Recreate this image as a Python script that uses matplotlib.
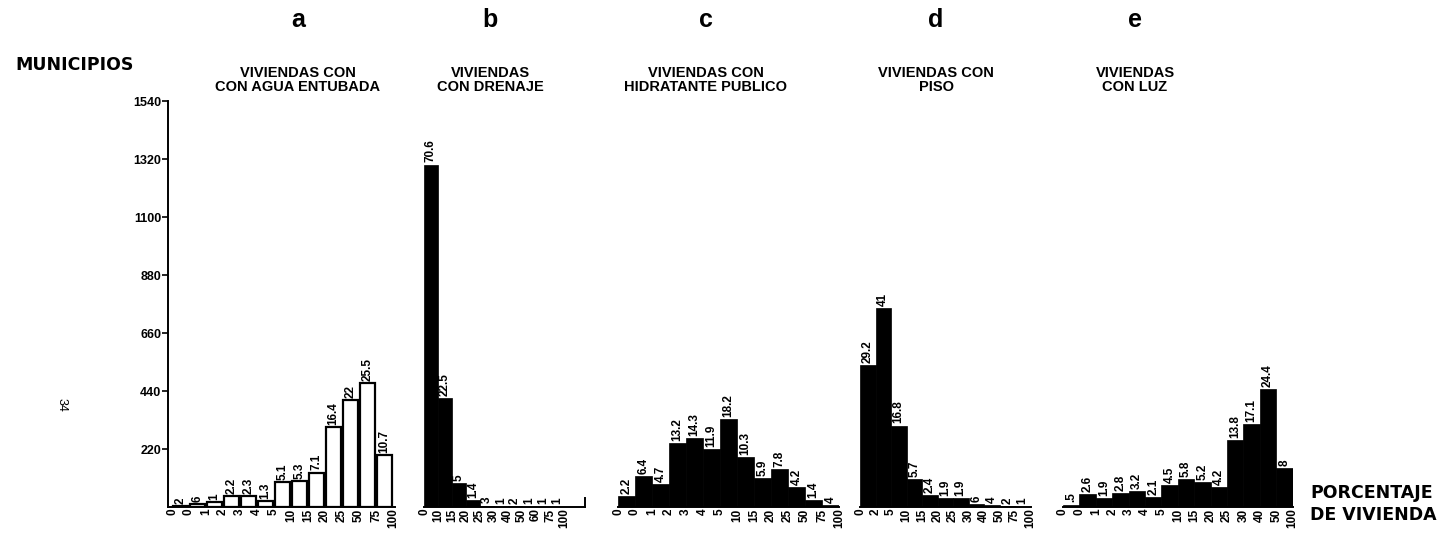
import numpy as np
import matplotlib
matplotlib.use("Agg")
import matplotlib.pyplot as plt

# ── data: % of municipios per class, and total municipios ─────────────────
TOTAL_MUNICIPIOS = 1840

pct_a = [0.2, 0.6, 1, 2.2, 2.3, 1.3, 5.1, 5.3, 7.1, 16.4, 22, 25.5, 10.7]
lab_a = ["2", "6", "1", "2.2", "2.3", "1.3", "5.1", "5.3", "7.1", "16.4", "22", "25.5", "10.7"]
edges_a = ["0", "0", "1", "2", "3", "4", "5", "10", "15", "20", "25", "50", "75", "100"]

pct_b = [70.6, 22.5, 5, 1.4, 0.3, 0.1, 0.2, 0.1, 0.1, 0.1]
lab_b = ["70.6", "22.5", "5", "1.4", "3", "1", "2", "1", "1", "1"]
edges_b = ["0", "10", "15", "20", "25", "30", "40", "50", "60", "75", "100"]

pct_c = [2.2, 6.4, 4.7, 13.2, 14.3, 11.9, 18.2, 10.3, 5.9, 7.8, 4.2, 1.4, 0.4]
lab_c = ["2.2", "6.4", "4.7", "13.2", "14.3", "11.9", "18.2", "10.3", "5.9", "7.8", "4.2", "1.4", "4"]
edges_c = ["0", "0", "1", "2", "3", "4", "5", "10", "15", "20", "25", "50", "75", "100"]

pct_d = [29.2, 41, 16.8, 5.7, 2.4, 1.9, 1.9, 0.6, 0.4, 0.2, 0.1]
lab_d = ["29.2", "41", "16.8", "5.7", "2.4", "1.9", "1.9", "6", "4", "2", "1"]
edges_d = ["0", "2", "5", "10", "15", "20", "25", "30", "40", "50", "75", "100"]

pct_e = [0.5, 2.6, 1.9, 2.8, 3.2, 2.1, 4.5, 5.8, 5.2, 4.2, 13.8, 17.1, 24.4, 8.0]
lab_e = [".5", "2.6", "1.9", "2.8", "3.2", "2.1", "4.5", "5.8", "5.2", "4.2", "13.8", "17.1", "24.4", "8"]
edges_e = ["0", "0", "1", "2", "3", "4", "5", "10", "15", "20", "25", "30", "40", "50", "100"]

letters = ["a", "b", "c", "d", "e"]
titles = ["VIVIENDAS CON\nCON AGUA ENTUBADA", "VIVIENDAS\nCON DRENAJE",
          "VIVIENDAS CON\nHIDRATANTE PUBLICO", "VIVIENDAS CON\nPISO",
          "VIVIENDAS\nCON LUZ"]
yticks = [220, 440, 660, 880, 1100, 1320, 1540]

# ── layout (pixels) ─────────────────────────────────────────────────────
W, H = 1450, 535
BASE, TOP = 507, 101
# left px of first bar, bar pitch px, extra baseline px after last bar, hollow bars
panels = [
    (pct_a, lab_a, edges_a, 172, 17.0, 2, True),
    (pct_b, lab_b, edges_b, 424, 14.0, 21, False),
    (pct_c, lab_c, edges_c, 618, 17.0, 0, False),
    (pct_d, lab_d, edges_d, 860, 15.5, 0, False),
    (pct_e, lab_e, edges_e, 1063, 16.4, 0, False),
]
head_x = [298, 490, 706, 936, 1135]

SANS = ["Liberation Sans", "DejaVu Sans"]
plt.rcParams["font.family"] = SANS
fig = plt.figure(figsize=(W / 100, H / 100), dpi=100)

for i, (pct, labs, edges, x0, pitch, tail, hollow) in enumerate(panels):
    n = len(pct)
    pad = 4 if i == 0 else 0
    left = x0 - pad
    width = n * pitch + tail + pad
    ax = fig.add_axes([left / W, (H - BASE) / H, width / W, (BASE - TOP) / H])
    ax.set_xlim(-pad / pitch, n + tail / pitch)
    ax.set_ylim(0, 1540)
    counts = np.array(pct) * TOTAL_MUNICIPIOS / 100
    xs = np.arange(n)
    if hollow:
        ax.bar(xs + 0.08, counts, width=0.84, align="edge", facecolor="white",
               edgecolor="black", linewidth=1.6)
    else:
        ax.bar(xs, counts, width=1.0, align="edge", color="black",
               edgecolor="black", linewidth=0.5)
    for x, c, t in zip(xs, counts, labs):
        ax.text(x + 0.5, c + 8, t, rotation=90, ha="center", va="bottom",
                fontsize=8.5, fontweight="bold")
    ax.set_xticks(np.arange(n + 1))
    ax.set_xticklabels(edges[:n + 1], rotation=90, fontsize=8.5,
                       fontweight="bold")
    ax.tick_params(axis="x", length=0, pad=1)
    for s in ["top", "right"]:
        ax.spines[s].set_visible(False)
    ax.spines["bottom"].set_linewidth(1.4)
    if i == 0:
        ax.spines["left"].set_linewidth(1.4)
        ax.set_yticks(yticks)
        ax.set_yticklabels([str(v) for v in yticks], fontsize=9,
                           fontweight="bold")
        ax.tick_params(axis="y", length=4, width=1.2, pad=1)
    else:
        ax.spines["left"].set_visible(False)
        ax.set_yticks([])
    if i == 1:
        ax.plot([n + tail / pitch] * 2, [0, 35], color="black", lw=1.4,
                clip_on=False)
    ax.patch.set_alpha(0)

    # panel letter and heading
    fig.text(head_x[i] / W, 1 - 20 / H, letters[i], ha="center", va="center",
             fontsize=18, fontweight="bold")
    fig.text(head_x[i] / W, 1 - 80 / H, titles[i], ha="center", va="center",
             fontsize=10.5, fontweight="bold", linespacing=1.05)

fig.text(15 / W, 1 - 65 / H, "MUNICIPIOS", ha="left", va="center",
         fontsize=12.5, fontweight="heavy", family="DejaVu Sans")
fig.text(1310 / W, 1 - 493 / H, "PORCENTAJE", ha="left", va="center",
         fontsize=12.5, fontweight="heavy", family="DejaVu Sans")
fig.text(1310 / W, 1 - 515 / H, "DE VIVIENDA", ha="left", va="center",
         fontsize=12.5, fontweight="heavy", family="DejaVu Sans")
fig.text(62 / W, 1 - 405 / H, "34", ha="center", va="center", rotation=-90,
         fontsize=9)

fig.savefig("out.png", dpi=100)
